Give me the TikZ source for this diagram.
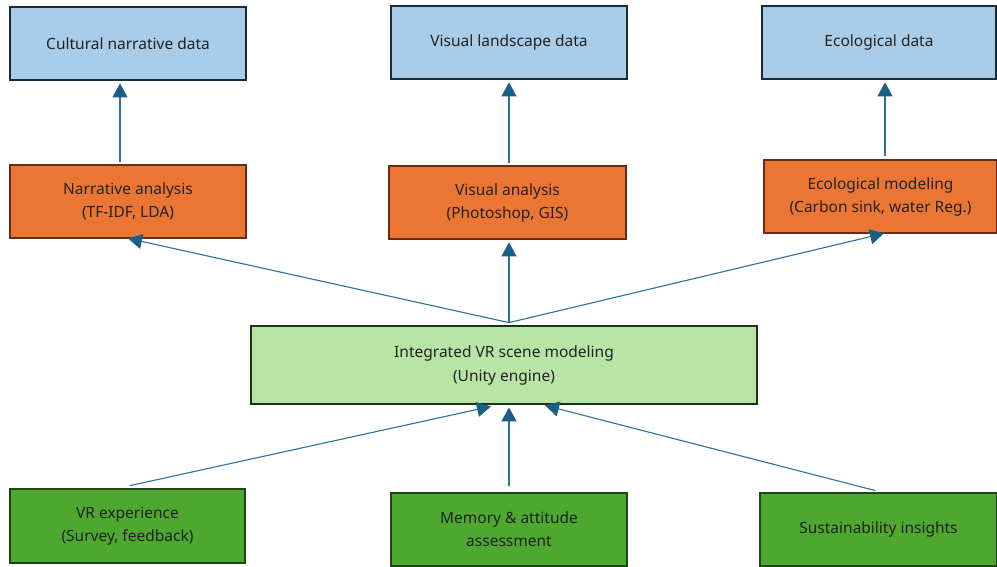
\documentclass[tikz,border=0pt]{standalone}
\usepackage{fontspec}
\setmainfont{Noto Sans}
\usetikzlibrary{arrows.meta,calc}
\definecolor{bluefill}{HTML}{A9CCE8}
\definecolor{blueline}{HTML}{1C2B3A}
\definecolor{orangefill}{HTML}{EB7634}
\definecolor{orangeline}{HTML}{6A2C12}
\definecolor{lgreenfill}{HTML}{B8E4A6}
\definecolor{lgreenline}{HTML}{1B3312}
\definecolor{dgreenfill}{HTML}{4EA72E}
\definecolor{dgreenline}{HTML}{1E4514}
\definecolor{arrowcol}{HTML}{2A7299}
\definecolor{tipcol}{HTML}{1A5F86}
\definecolor{textcol}{HTML}{222222}
\tikzset{
  x=1pt, y=-1pt,
  box/.style={draw, line width=2.8pt, minimum width=#1, align=center,
    font=\fontsize{15.5}{23}\selectfont, text=textcol, inner sep=0pt},
  box/.default=236pt,
  datastep/.style={box, fill=bluefill, draw=blueline, minimum height=73pt},
  analysisstep/.style={box, fill=orangefill, draw=orangeline, minimum height=73pt},
  scenestep/.style={box=506pt, fill=lgreenfill, draw=lgreenline, minimum height=78pt},
  evalstep/.style={box, fill=dgreenfill, draw=dgreenline, minimum height=73pt},
  arr/.style={draw=arrowcol, line width=1.1pt,
    -{Triangle[width=15pt,length=14pt,color=tipcol]}},
}
\begin{document}
\begin{tikzpicture}
\useasboundingbox (0,0) rectangle (997,566);
% source data
\node[datastep] (b1) at (128,43.5) {Cultural narrative data};
\node[datastep] (b2) at (509,42.5) {Visual landscape data};
\node[datastep, minimum width=234pt] (b3) at (879,42.5) {Ecological data};
% analysis methods
\node[analysisstep] (o1) at (128,201.5) {Narrative analysis\\(TF-IDF, LDA)};
\node[analysisstep, minimum width=237pt] (o2) at (507.5,202.5) {Visual analysis\\(Photoshop, GIS)};
\node[analysisstep, minimum width=233pt] (o3) at (880.5,196.5) {Ecological modeling\\ (Carbon sink, water Reg.)};
% integration
\node[scenestep] (g) at (504,365) {Integrated VR scene modeling\\[1pt](Unity engine)};
% evaluation
\node[evalstep, minimum width=235pt, minimum height=74pt] (d1) at (127.5,526) {VR experience\\(Survey, feedback)};
\node[evalstep] (d2) at (509,529.5) {Memory \& attitude\\assessment};
\node[evalstep, minimum width=237pt] (d3) at (878.5,529.5) {Sustainability insights};
% analysis -> data
\draw[arr] ($(o1.north)+(-8,-2)$) -- ($(b1.south)+(-8,2)$);
\draw[arr] ($(o2.north)+(1.5,-2)$) -- ($(b2.south)+(0,2)$);
\draw[arr] ($(o3.north)+(4.5,-3)$) -- ($(b3.south)+(6,2)$);
% scene -> analysis
\coordinate (gt) at ($(g.north)+(5,-2)$);
\draw[arr] (gt) -- ($(o1.south)+(0,-1)$);
\draw[arr] (gt) -- ($(o2.south)+(1.5,2)$);
\draw[arr] (gt) -- ($(o3.south)+(3.5,-1)$);
% evaluation -> scene
\draw[arr] ($(d1.north)+(2.5,-2)$) -- ($(g.south)+(-13,1)$);
\draw[arr] ($(d2.north)+(0,-6)$) -- ($(g.south)+(5,2)$);
\draw[arr] ($(d3.north)+(-3,-1)$) -- ($(g.south)+(41,0)$);
\end{tikzpicture}
\end{document}
